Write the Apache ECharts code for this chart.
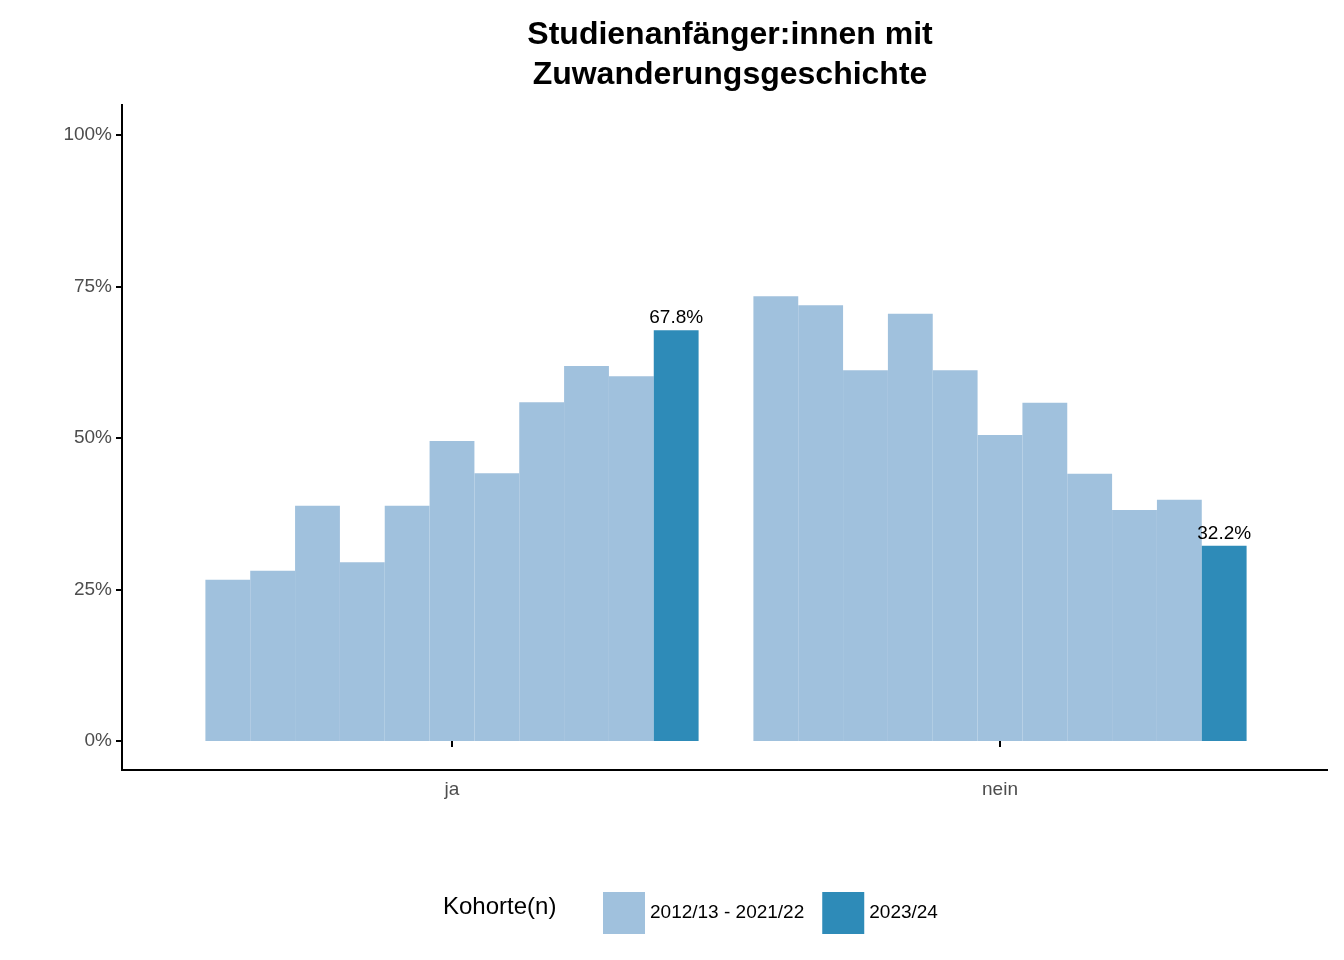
<!DOCTYPE html>
<html><head><meta charset="utf-8">
<script src="https://cdn.jsdelivr.net/npm/echarts@6/dist/echarts.min.js"></script>
<style>html,body{margin:0;background:#fff}#c{width:1344px;height:960px}</style>
</head><body><div id="c"></div>
<script>
var categories = ['ja', 'nein'];
var cohorts = ['2012/13', '2013/14', '2014/15', '2015/16', '2016/17', '2017/18', '2018/19', '2019/20', '2020/21', '2021/22', '2023/24'];
var ja = [26.6, 28.1, 38.8, 29.5, 38.8, 49.5, 44.2, 55.9, 61.9, 60.2, 67.8];
var nein = [73.4, 71.9, 61.2, 70.5, 61.2, 50.5, 55.8, 44.1, 38.1, 39.8, 32.2];
var yTicks = [0, 25, 50, 75, 100];
var oldName = '2012/13 - 2021/22', newName = '2023/24';

var chart = echarts.init(document.getElementById('c'));
var series = cohorts.map(function (c, i) {
  var last = i === cohorts.length - 1;
  return {
    type: 'bar',
    name: last ? newName : oldName,
    data: [ja[i], nein[i]],
    barGap: '0%',
    barCategoryGap: '10%',
    itemStyle: { color: last ? '#2e8bb8' : '#a0c1dd' },
    label: {
      show: last, position: 'top', distance: 3, color: '#000', fontSize: 19,
      fontFamily: 'Liberation Sans', formatter: function (p) { return p.value.toFixed(1) + '%'; }
    }
  };
});

chart.setOption({
  animation: false,
  textStyle: { fontFamily: 'Liberation Sans' },
  title: {
    text: 'Studienanfänger:innen mit\nZuwanderungsgeschichte',
    left: 725, top: 10, textAlign: 'center',
    textStyle: { fontSize: 32, fontWeight: 'bold', color: '#000', lineHeight: 40, fontFamily: 'Liberation Sans' }
  },
  grid: { left: 178, right: 70, top: 135, bottom: 219 },
  xAxis: {
    type: 'category', data: categories, offset: 29,
    axisLine: { show: false },
    axisTick: { show: true, alignWithLabel: true, length: 6, lineStyle: { color: '#000', width: 2 } },
    axisLabel: { color: '#4d4d4d', fontSize: 19, margin: 10 }
  },
  yAxis: {
    type: 'value', min: 0, max: 100, interval: 25, offset: 56,
    splitLine: { show: false },
    axisLine: { show: false },
    axisTick: { show: true, length: 6, lineStyle: { color: '#000', width: 2 } },
    axisLabel: {
      color: '#4d4d4d', fontSize: 19, margin: 10,
      formatter: function (v) { return yTicks.indexOf(v) >= 0 ? v + '%' : ''; }
    }
  },
  legend: {
    data: [oldName, newName], left: 598, top: 887,
    itemWidth: 42, itemHeight: 42, itemGap: 18, icon: 'rect',
    textStyle: { fontSize: 19, color: '#000' }
  },
  graphic: [
    { type: 'line', shape: { x1: 122, y1: 104, x2: 122, y2: 771 }, style: { stroke: '#000', lineWidth: 2 } },
    { type: 'line', shape: { x1: 121, y1: 770, x2: 1328, y2: 770 }, style: { stroke: '#000', lineWidth: 2 } },
    { type: 'text', left: 443, top: 895, style: { text: 'Kohorte(n)', fontSize: 24, fill: '#000', fontFamily: 'Liberation Sans' } }
  ],
  series: series
});
</script></body></html>
